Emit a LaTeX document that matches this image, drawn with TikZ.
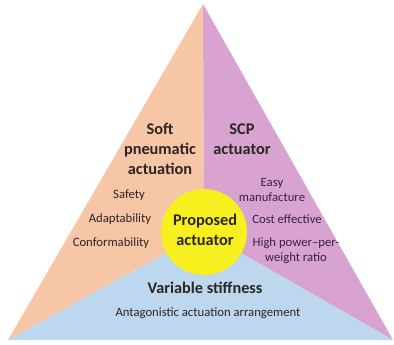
\documentclass[tikz,border=0pt]{standalone}
\usepackage{fontspec}
\setmainfont{Carlito}
\definecolor{peach}{HTML}{F6C6A6}
\definecolor{mauve}{HTML}{D8A3D0}
\definecolor{skyblue}{HTML}{BDD7EE}
\definecolor{sun}{HTML}{F7EF1E}
\definecolor{lefttext}{HTML}{2B2523}
\definecolor{righttext}{HTML}{3A2145}
\tikzset{
  title/.style={font=\fontsize{16.3}{20}\selectfont\bfseries, align=center, inner sep=0pt, text=lefttext},
  item/.style={font=\fontsize{12.7}{15}\selectfont, align=center, inner sep=0pt, text=lefttext},
  ritem/.style={item, text=righttext}
}
\begin{document}
\begin{tikzpicture}[x=1pt,y=-1pt]
\useasboundingbox (0,0) rectangle (394,345);
\coordinate (apex) at (203,4);
\coordinate (bl) at (8,340);
\coordinate (br) at (393,340);
\coordinate (ctr) at (204,232);
\fill[peach] (apex) -- (bl) -- (ctr) -- cycle;
\fill[mauve] (apex) -- (ctr) -- (br) -- cycle;
\fill[skyblue] (bl) -- (ctr) -- (br) -- cycle;
\node[circle, fill=sun, minimum size=86pt, inner sep=0pt] (prop) at (ctr) {};
\node[title] (spa) at (160,149) {Soft\\pneumatic\\actuation};
\node[title] (scp) at (242,139) {SCP\\actuator};
\node[item] (safety) at (129,195) {Safety};
\node[item] (adapt) at (120,219) {Adaptability};
\node[item] (conf) at (111,243) {Conformability};
\node[ritem] (easy) at (272,190) {Easy\\manufacture};
\node[ritem] (cost) at (287,219) {Cost effective};
\node[ritem] (high) at (296,251) {High power--per-\\weight ratio};
\node[title] (proptext) at (205,230) {Proposed\\actuator};
\node[title] (var) at (205,288) {Variable stiffness};
\node[item] (ant) at (208,313) {Antagonistic actuation arrangement};
\end{tikzpicture}
\end{document}
